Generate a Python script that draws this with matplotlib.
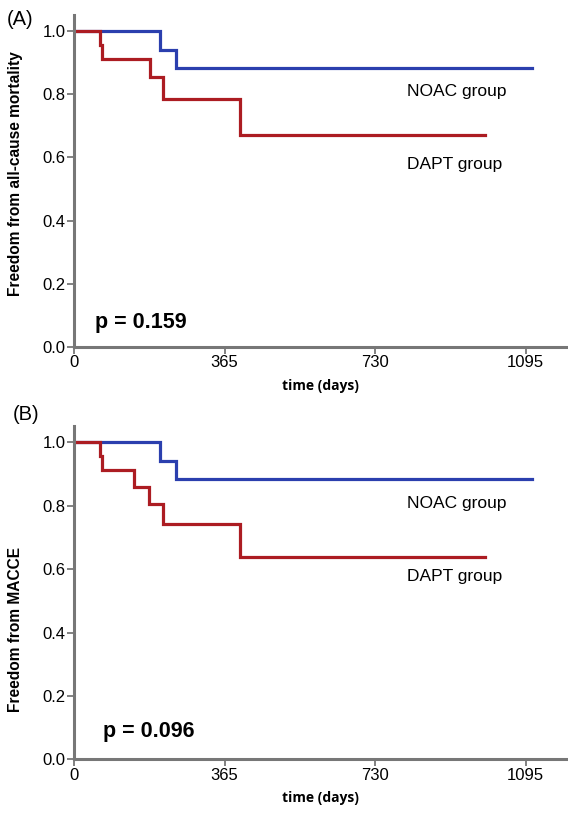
import matplotlib
matplotlib.use("Agg")
import matplotlib.pyplot as plt

# ---- data ----
# Panel A: all-cause mortality
a_noac_t = [0, 209, 246, 1109]
a_noac_s = [1.0, 0.940, 0.882, 0.882]
a_dapt_t = [0, 64, 68, 184, 216, 403, 996]
a_dapt_s = [1.0, 0.955, 0.910, 0.853, 0.785, 0.671, 0.671]
# Panel B: MACCE
b_noac_t = [0, 208, 246, 1109]
b_noac_s = [1.0, 0.941, 0.883, 0.883]
b_dapt_t = [0, 64, 68, 146, 181, 216, 403, 996]
b_dapt_s = [1.0, 0.958, 0.912, 0.858, 0.805, 0.742, 0.638, 0.638]

x_ticks = [0, 365, 730, 1095]
y_ticks = [0.0, 0.2, 0.4, 0.6, 0.8, 1.0]
panel_labels = ["(A)", "(B)"]
y_labels = ["Freedom from all-cause mortality", "Freedom from MACCE"]
p_texts = ["p = 0.159", "p = 0.096"]
group_names = ["NOAC group", "DAPT group"]

BLUE = "#2b3fae"
RED = "#ac1c22"
SPINE = "#777777"
FONT = "Liberation Sans"

fig = plt.figure(figsize=(5.68, 8.13), dpi=100)

panels = [
    dict(rect=[0.1303, 0.5732, 0.8680, 0.4083], noac=(a_noac_t, a_noac_s), dapt=(a_dapt_t, a_dapt_s),
         noac_txt=(807, 0.807), dapt_txt=(807, 0.576), p_pos=(51, 0.079), ylab_y=0.521,
         lab_pos=(0.012, 0.976)),
    dict(rect=[0.1303, 0.0660, 0.8680, 0.4094], noac=(b_noac_t, b_noac_s), dapt=(b_dapt_t, b_dapt_s),
         noac_txt=(807, 0.808), dapt_txt=(807, 0.578), p_pos=(70, 0.087), ylab_y=0.391,
         lab_pos=(0.023, 0.490)),
]

for i, P in enumerate(panels):
    ax = fig.add_axes(P["rect"])
    ax.step(P["noac"][0], P["noac"][1], where="post", color=BLUE, lw=2.3, solid_joinstyle="miter")
    ax.step(P["dapt"][0], P["dapt"][1], where="post", color=RED, lw=2.3, solid_joinstyle="miter")
    ax.set_xlim(0, 1195)
    ax.set_ylim(0, 1.05)
    ax.set_xticks(x_ticks)
    ax.set_xticklabels([str(t) for t in x_ticks], fontsize=12, family=FONT)
    ax.set_yticks(y_ticks)
    ax.set_yticklabels([f"{v:.1f}" for v in y_ticks], fontsize=12, family=FONT)
    for s in ["top", "right"]:
        ax.spines[s].set_visible(False)
    for s in ["left", "bottom"]:
        ax.spines[s].set_color(SPINE)
        ax.spines[s].set_linewidth(2.2)
    ax.tick_params(axis="both", direction="out", length=5, width=1.3, color=SPINE, pad=1)
    ax.set_ylabel(y_labels[i], fontsize=11.2, family=FONT, fontweight="bold")
    ax.yaxis.set_label_coords(-0.103, P["ylab_y"])
    ax.set_xlabel("time (days)", fontsize=10, family="Open Sans", fontweight="bold", labelpad=6)
    ax.text(P["noac_txt"][0], P["noac_txt"][1], group_names[0], fontsize=12.5, family=FONT,
            va="center", ha="left")
    ax.text(P["dapt_txt"][0], P["dapt_txt"][1], group_names[1], fontsize=12.5, family=FONT,
            va="center", ha="left")
    ax.text(P["p_pos"][0], P["p_pos"][1], p_texts[i], fontsize=15.5, family=FONT,
            fontweight="bold", va="center", ha="left")
    fig.text(P["lab_pos"][0], P["lab_pos"][1], panel_labels[i], fontsize=14.5, family=FONT,
             va="center", ha="left")

fig.savefig("out.png", dpi=100)
